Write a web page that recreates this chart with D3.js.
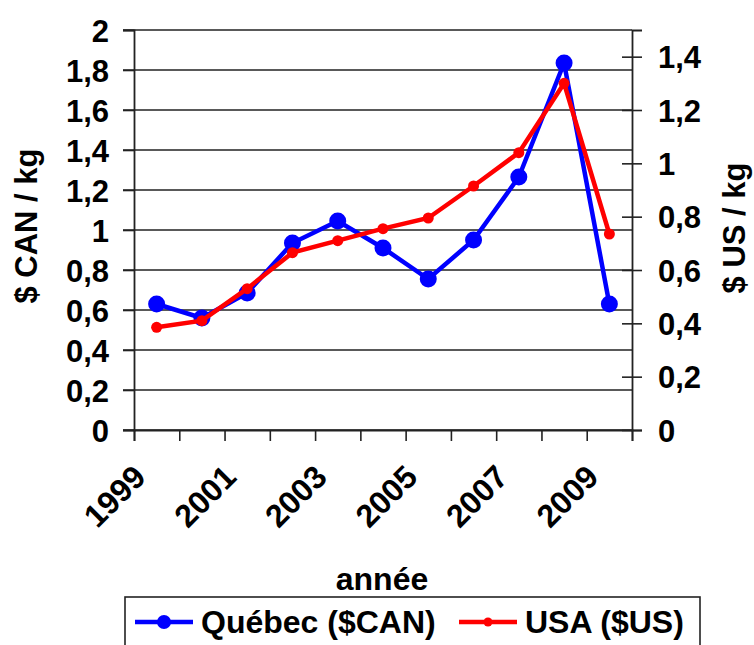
<script src="https://d3js.org/d3.v7.min.js"></script>

<style>
  body { margin: 0; background: #fff; }
  text { font-family: Arial, "Liberation Sans", sans-serif; font-weight: bold; fill: #000; }
</style>

<body>
  <div id="vis"></div>
</body>

<script>
  // Data
  let years = ['1999', '2000', '2001', '2002', '2003', '2004', '2005', '2006', '2007', '2008', '2009']
  let quebecCAN = [0.63, 0.56, 0.685, 0.935, 1.045, 0.91, 0.755, 0.95, 1.265, 1.835, 0.63]
  let usaUS = [0.385, 0.41, 0.53, 0.665, 0.71, 0.755, 0.795, 0.915, 1.04, 1.30, 0.735]
  let leftTicks = [0, 0.2, 0.4, 0.6, 0.8, 1, 1.2, 1.4, 1.6, 1.8, 2]
  let rightTicks = [0, 0.2, 0.4, 0.6, 0.8, 1, 1.2, 1.4]
  let shownYears = ['1999', '2001', '2003', '2005', '2007', '2009']

  const width = 754
  const height = 645
  const plotLeft = 134, plotRight = 632, plotTop = 30, plotBottom = 430
  const axisColor = '#222'

  let svg = d3.select('#vis').append('svg')
    .attr('width', width)
    .attr('height', height)

  let fmt = d => String(d).replace('.', ',')

  // Scales
  let x = d3.scaleBand().domain(years).range([plotLeft, plotRight])
  let xEdge = d3.scaleLinear().domain([0, years.length]).range([plotLeft, plotRight])
  let yLeft = d3.scaleLinear().domain([0, 2]).range([plotBottom, plotTop])
  let yRight = d3.scaleLinear().domain([0, 1.5]).range([plotBottom, plotTop])

  // Horizontal gridlines (also serve as left ticks)
  svg.append('g')
    .selectAll('line')
    .data(leftTicks)
    .enter()
    .append('line')
      .attr('x1', plotLeft - 11)
      .attr('x2', plotRight)
      .attr('y1', d => yLeft(d))
      .attr('y2', d => yLeft(d))
      .style('stroke', axisColor)
      .style('stroke-width', 1.6)

  // Left axis
  let leftAxis = svg.append('g')
    .attr('transform', 'translate(' + plotLeft + ',0)')
    .call(d3.axisLeft(yLeft).tickValues(leftTicks).tickFormat(fmt).tickSize(11).tickPadding(14))
  leftAxis.selectAll('text').style('font-size', '31px').attr('dy', '0.36em')

  // Right axis, ticks cross the line
  let rightAxis = svg.append('g')
    .attr('transform', 'translate(' + plotRight + ',0)')
    .call(d3.axisRight(yRight).tickValues(rightTicks).tickFormat(fmt).tickSize(10).tickPadding(16))
  rightAxis.selectAll('.tick line').attr('x1', -10)
  rightAxis.selectAll('text').style('font-size', '31px').attr('dy', '0.36em')

  // Bottom axis: ticks at category edges
  let bottomAxis = svg.append('g')
    .attr('transform', 'translate(0,' + plotBottom + ')')
    .call(d3.axisBottom(xEdge).tickValues(d3.range(years.length + 1)).tickFormat('').tickSize(11))

  svg.selectAll('.domain').style('stroke', axisColor).style('stroke-width', 1.8)
  svg.selectAll('.tick line').style('stroke', axisColor).style('stroke-width', 1.6)

  // Year labels, rotated
  svg.append('g')
    .selectAll('text')
    .data(shownYears)
    .enter()
    .append('text')
      .attr('text-anchor', 'end')
      .attr('transform', d => 'translate(' + (x(d) + x.bandwidth() / 2 - 9) + ',' + (plotBottom + 49) + ')rotate(-45)')
      .style('font-size', '32px')
      .text(d => d)

  // Axis titles
  svg.append('text')
    .attr('text-anchor', 'middle')
    .attr('transform', 'translate(37,' + 226 + ')rotate(-90)')
    .style('font-size', '31px')
    .text('$ CAN / kg')

  svg.append('text')
    .attr('text-anchor', 'middle')
    .attr('transform', 'translate(745,' + 228 + ')rotate(-90)')
    .style('font-size', '31px')
    .text('$ US / kg')

  svg.append('text')
    .attr('text-anchor', 'middle')
    .attr('x', 382)
    .attr('y', 590)
    .style('font-size', '32px')
    .text('année')

  // Lines
  let lineLeft = d3.line().x((d, i) => x(years[i]) + x.bandwidth() / 2).y(d => yLeft(d))
  let lineRight = d3.line().x((d, i) => x(years[i]) + x.bandwidth() / 2).y(d => yRight(d))

  svg.append('path')
    .datum(quebecCAN)
    .attr('d', lineLeft)
    .attr('fill', 'none')
    .attr('stroke', '#0000ff')
    .attr('stroke-width', 4.5)

  svg.append('g')
    .selectAll('circle')
    .data(quebecCAN)
    .enter()
    .append('circle')
      .attr('cx', (d, i) => x(years[i]) + x.bandwidth() / 2)
      .attr('cy', d => yLeft(d))
      .attr('r', 8.5)
      .attr('fill', '#0000ff')

  svg.append('path')
    .datum(usaUS)
    .attr('d', lineRight)
    .attr('fill', 'none')
    .attr('stroke', '#ff0000')
    .attr('stroke-width', 4.5)

  svg.append('g')
    .selectAll('circle')
    .data(usaUS)
    .enter()
    .append('circle')
      .attr('cx', (d, i) => x(years[i]) + x.bandwidth() / 2)
      .attr('cy', d => yRight(d))
      .attr('r', 5.5)
      .attr('fill', '#ff0000')

  // Legend box
  svg.append('rect')
    .attr('x', 125)
    .attr('y', 597)
    .attr('width', 575)
    .attr('height', 60)
    .attr('fill', 'none')
    .style('stroke', axisColor)
    .style('stroke-width', 1.6)

  let legend = [
    {name: 'Québec ($CAN)', color: '#0000ff', r: 7, x0: 135},
    {name: 'USA ($US)', color: '#ff0000', r: 4.5, x0: 459}
  ]

  let items = svg.append('g')
    .selectAll('g')
    .data(legend)
    .enter()
    .append('g')
      .attr('transform', d => 'translate(' + d.x0 + ',622)')

  items.append('line')
    .attr('x1', 0).attr('x2', 58)
    .attr('stroke', d => d.color)
    .attr('stroke-width', 4.5)
  items.append('circle')
    .attr('cx', 29)
    .attr('r', d => d.r)
    .attr('fill', d => d.color)
  items.append('text')
    .attr('x', 66)
    .attr('y', 11)
    .style('font-size', '32px')
    .text(d => d.name)
</script>
